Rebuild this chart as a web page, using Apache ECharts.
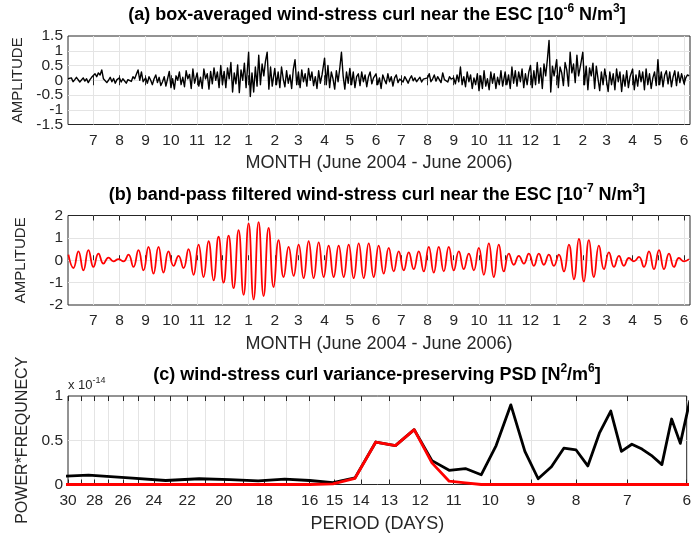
<!DOCTYPE html>
<html>
<head>
<meta charset="utf-8">
<script src="https://cdn.jsdelivr.net/npm/echarts@6/dist/echarts.min.js"></script>
<style>
  html, body { margin: 0; padding: 0; background: #ffffff; }
  #chart { width: 694px; height: 537px; }
</style>
</head>
<body>
<div id="chart"></div>
<script>
// ---------------------------------------------------------------------------
// (a) box-averaged wind-stress curl, sampled every 2 days, one row per month
// ---------------------------------------------------------------------------
const curl2004 = [
  /* Jun */ [0.05, 0.0, 0.08, -0.05, 0.02, 0.1, 0.04, -0.06, 0.0, 0.08, -0.03, 0.05, -0.08, 0.02, 0.1],
  /* Jul */ [0.15, 0.22, 0.12, 0.25, 0.18, 0.35, 0.05, 0.1, -0.08, 0.0, 0.1, -0.05, 0.06, -0.1, 0.02],
  /* Aug */ [0.08, -0.06, 0.05, 0.1, -0.1, 0.02, 0.08, -0.04, 0.12, 0.05, 0.2, 0.35, 0.0, 0.28, -0.05],
  /* Sep */ [0.08, -0.1, 0.12, 0.0, -0.15, 0.05, 0.18, -0.08, 0.1, -0.18, -0.05, 0.12, -0.2, 0.05, 0.3],
  /* Oct */ [-0.25, 0.05, -0.3, 0.15, 0.0, 0.28, -0.15, 0.1, -0.22, 0.32, 0.05, 0.2, -0.28, 0.38, -0.1],
  /* Nov */ [0.25, -0.2, 0.1, -0.28, 0.38, 0.05, 0.22, -0.3, 0.3, -0.12, 0.42, 0.0, 0.28, -0.25, 0.5],
  /* Dec */ [-0.15, 0.3, -0.25, 0.42, 0.05, 0.6, -0.4, 0.25, -0.12, 0.52, -0.42, 0.35, 0.0, 0.58, -0.25]
];
const curl2005 = [
  /* Jan */ [0.95, -0.55, 0.25, -0.4, 0.45, -0.2, 0.85, -0.15, 0.55, 0.15, 0.65, 0.95, -0.3, 0.45, -0.2],
  /* Feb */ [0.4, -0.15, 0.28, -0.25, 0.45, 0.05, -0.22, 0.32, -0.1, 0.18, -0.28, 0.38, 0.7, -0.15],
  /* Mar */ [0.28, -0.25, 0.35, -0.05, 0.22, -0.2, 0.4, 0.0, 0.28, -0.18, 0.12, -0.28, 0.32, -0.1, 0.18],
  /* Apr */ [0.75, -0.15, 0.5, -0.25, 0.28, 0.05, -0.3, 0.32, -0.05, 0.4, 0.95, 0.15, -0.3, 0.28, -0.1],
  /* May */ [0.4, -0.15, 0.28, -0.25, 0.12, 0.22, -0.18, 0.28, -0.05, 0.18, -0.22, 0.12, 0.28, -0.12, 0.08],
  /* Jun */ [0.22, -0.15, 0.08, -0.28, 0.18, 0.02, -0.12, 0.22, -0.05, 0.12, -0.2, 0.08, 0.18, -0.08, 0.04],
  /* Jul */ [0.08, -0.06, 0.12, 0.02, -0.1, 0.05, 0.15, -0.02, 0.08, -0.05, 0.03, 0.1, -0.06, 0.04, 0.0],
  /* Aug */ [0.08, 0.22, -0.05, 0.04, 0.18, -0.03, 0.12, 0.08, -0.08, 0.25, 0.02, 0.08, -0.06, 0.12, 0.04],
  /* Sep */ [0.08, -0.12, 0.18, -0.05, 0.45, -0.15, 0.12, -0.22, 0.28, -0.05, 0.18, -0.28, 0.08, -0.15, 0.22],
  /* Oct */ [-0.35, 0.15, -0.28, 0.32, -0.2, 0.05, -0.32, 0.28, -0.1, 0.22, -0.28, 0.1, -0.15, 0.32, -0.2],
  /* Nov */ [0.28, -0.15, 0.18, -0.28, 0.45, -0.1, 0.32, -0.2, 0.28, -0.05, 0.38, -0.25, 0.22, -0.15, 0.28],
  /* Dec */ [0.5, -0.25, 0.32, -0.15, 0.6, -0.1, 0.42, -0.28, 0.55, 0.15, 0.7, 1.35, -0.4, 0.48, 0.15]
];
const curl2006 = [
  /* Jan */ [0.7, -0.25, 0.45, 0.25, -0.18, 0.6, 0.35, -0.2, 0.95, 0.25, 0.55, -0.08, 0.85, 0.15, 0.45],
  /* Feb */ [0.95, -0.15, 0.48, -0.32, 0.42, 0.15, 0.58, -0.28, 0.48, 0.05, -0.35, 0.28, -0.15, 0.38],
  /* Mar */ [0.32, -0.38, 0.28, -0.15, 0.22, -0.32, 0.38, -0.05, 0.28, -0.38, 0.18, -0.2, 0.32, -0.25, 0.12],
  /* Apr */ [0.38, -0.32, 0.18, -0.2, 0.32, -0.05, 0.28, -0.32, 0.38, -0.15, 0.22, -0.28, 0.08, 0.28, -0.18],
  /* May */ [0.7, -0.15, 0.28, -0.22, 0.18, 0.32, -0.12, 0.28, -0.22, 0.12, 0.32, -0.18, 0.28, -0.08, 0.22],
  /* Jun */ [-0.12, 0.08, 0.18, 0.15]
];
const CURL_STEP_DAYS = 2;
const curlTicks = [-1.5, -1, -0.5, 0, 0.5, 1, 1.5];

// ---------------------------------------------------------------------------
// (b) band-pass filtered curl: successive crests and troughs of the ~12-day wave
// ---------------------------------------------------------------------------
const bandCrests = [
  0.25, 0.4, 0.45, 0.3, 0.12, 0.05, 0.25, 0.45, 0.6, 0.6,
  0.4, 0.2, 0.5, 0.7, 0.85, 1.05, 1.1, 1.35, 1.65, 1.7,
  1.45, 0.9, 0.6, 0.7, 0.85, 0.8, 0.65, 0.65, 0.7, 0.75,
  0.75, 0.65, 0.55, 0.4, 0.35, 0.4, 0.6, 0.6, 0.6, 0.4,
  0.3, 0.55, 0.75, 0.7, 0.3, 0.2, 0.3, 0.3, 0.25, 0.25,
  0.7, 0.95, 0.9, 0.65, 0.35, 0.2, 0.1, 0.15, 0.4, 0.45,
  0.3, 0.1, 0.05
];
const bandTroughs = [
  -0.35, -0.45, -0.3, -0.15, -0.05, -0.05, -0.3, -0.45, -0.6, -0.55,
  -0.25, -0.35, -0.65, -0.75, -0.9, -1.0, -1.25, -1.55, -1.75, -1.6,
  -1.2, -0.75, -0.7, -0.8, -0.8, -0.75, -0.75, -0.75, -0.8, -0.8,
  -0.75, -0.6, -0.5, -0.45, -0.4, -0.5, -0.55, -0.5, -0.45, -0.4,
  -0.45, -0.65, -0.75, -0.5, -0.2, -0.15, -0.25, -0.2, -0.25, -0.5,
  -0.85, -0.95, -0.75, -0.4, -0.3, -0.25, -0.05, -0.3, -0.4, -0.4,
  -0.3, -0.05
];
const BAND_FIRST_DAY = 0.5;
const BAND_HALF_CYCLE_DAYS = 5.93;
const bandTicks = [-2, -1, 0, 1, 2];

// ---------------------------------------------------------------------------
// (c) variance-preserving PSD (x 1e-14) against period in days
// ---------------------------------------------------------------------------
const psdPeriods = [32, 28.44, 25.6, 23.27, 21.33, 19.69, 18.29, 17.07, 16, 15.06,
  14.22, 13.47, 12.8, 12.19, 11.64, 11.13, 10.67, 10.24, 9.85, 9.48,
  9.14, 8.83, 8.53, 8.26, 8, 7.76, 7.53, 7.31, 7.11, 6.92,
  6.74, 6.56, 6.4, 6.24, 6.1, 5.95];
const psdFull = [0.085, 0.105, 0.075, 0.045, 0.065, 0.055, 0.04, 0.06, 0.045, 0.02,
  0.075, 0.48, 0.44, 0.62, 0.27, 0.16, 0.18, 0.11, 0.44, 0.9,
  0.375, 0.065, 0.2, 0.41, 0.39, 0.21, 0.58, 0.83, 0.375, 0.455,
  0.4, 0.32, 0.225, 0.74, 0.465, 0.95];
const psdBand = [0, 0, 0, 0, 0, 0, 0, 0, 0, 0.008,
  0.07, 0.48, 0.44, 0.62, 0.244, 0.037, 0.019, 0, 0, 0,
  0, 0, 0, 0, 0, 0, 0, 0, 0, 0,
  0, 0, 0, 0, 0, 0];
const periodTicks = [30, 29, 28, 27, 26, 25, 24, 23, 22, 21, 20, 19, 18, 17, 16, 15,
  14, 13, 12, 11, 10, 9, 8, 7, 6];
const periodLabels = [30, 28, 26, 24, 22, 20, 18, 16, 15, 14, 13, 12, 11, 10, 9, 8, 7, 6];
const psdTicks = [0, 0.5, 1];

// ---------------------------------------------------------------------------
const FONT = '"Liberation Sans", Arial, Helvetica, sans-serif';
const INK = '#262626';
const GRIDLINE = '#e4e4e4';
const DAY_MS = 86400000;
const START_MS = Date.UTC(2004, 5, 1);
const LAST_DAY = 737;

function dayOf(year, month, date) {
  return (Date.UTC(year, month, date) - START_MS) / DAY_MS;
}
function monthNumber(day) {
  return String(new Date(START_MS + day * DAY_MS).getUTCMonth() + 1);
}

// first day of each month, Jul 2004 .. Jun 2006
const monthStarts = [];
for (let i = 1; i <= 24; i++) monthStarts.push(dayOf(2004, 5 + i, 1));

const curlPoints = [];
[...curl2004, ...curl2005, ...curl2006].forEach((row, r) => {
  const start = dayOf(2004, 5 + r, 1);
  row.forEach((v, i) => curlPoints.push([start + i * CURL_STEP_DAYS, v]));
});

const bandPoints = [];
bandCrests.forEach((v, i) => {
  bandPoints.push([BAND_FIRST_DAY + 2 * i * BAND_HALF_CYCLE_DAYS, v]);
  if (i < bandTroughs.length) {
    bandPoints.push([BAND_FIRST_DAY + (2 * i + 1) * BAND_HALF_CYCLE_DAYS, bandTroughs[i]]);
  }
});

const psdFullPoints = psdPeriods.map((p, i) => [p, psdFull[i]]);
const psdBandPoints = psdPeriods.map((p, i) => [p, psdBand[i]]);

const tickFont = { fontFamily: FONT, fontSize: 15.5, color: INK };
const xNameStyle = { fontFamily: FONT, fontSize: 18, color: INK };

function monthAxis(gridIndex, position, withLabels) {
  return {
    type: 'value', gridIndex, position, min: 0, max: LAST_DAY,
    axisLine: { show: false },
    axisTick: { show: true, inside: true, length: 5, customValues: monthStarts,
      lineStyle: { color: INK, width: 1 } },
    axisLabel: Object.assign({ show: withLabels, customValues: monthStarts, margin: 8,
      formatter: v => monthNumber(v) }, tickFont),
    splitLine: { show: withLabels, lineStyle: { color: GRIDLINE, width: 1 } },
    name: withLabels ? 'MONTH (June 2004 - June 2006)' : '',
    nameLocation: 'middle', nameGap: 30, nameTextStyle: xNameStyle
  };
}

function periodAxis(position, withLabels) {
  return {
    type: 'log', logBase: 10, gridIndex: 2, position, inverse: true, min: 6, max: 30,
    axisLine: { show: false },
    axisTick: { show: true, inside: true, length: 5, customValues: periodTicks,
      lineStyle: { color: INK, width: 1 } },
    axisLabel: Object.assign({ show: withLabels, customValues: periodLabels, margin: 8,
      formatter: v => String(Math.round(v)) }, tickFont),
    splitLine: { show: withLabels, showMinLine: false, showMaxLine: false,
      lineStyle: { color: GRIDLINE, width: 1 } },
    name: withLabels ? 'PERIOD (DAYS)' : '',
    nameLocation: 'middle', nameGap: 31, nameTextStyle: xNameStyle
  };
}

// value axis whose split lines sit on `ticks` and whose labels sit on `labels`
function amplitudeAxis(gridIndex, min, max, ticks, labels, name, gap, size, withLines) {
  return {
    type: 'value', gridIndex, min, max, position: 'left',
    axisLine: { show: false },
    axisTick: { show: false, customValues: ticks },
    axisLabel: Object.assign({ margin: 5, customValues: labels,
      showMinLabel: true, showMaxLabel: true, hideOverlap: false,
      formatter: v => String(v) }, tickFont),
    splitLine: { show: withLines, showMinLine: false, showMaxLine: false,
      lineStyle: { color: GRIDLINE, width: 1 } },
    name, nameLocation: 'middle', nameGap: gap, nameRotate: 90,
    nameTextStyle: { fontFamily: FONT, fontSize: size, color: INK }
  };
}

const gridBox = { show: true, borderColor: INK, borderWidth: 1, backgroundColor: 'transparent' };

const titleRich = {
  t: { fontFamily: FONT, fontSize: 18, fontWeight: 'bold', fill: '#000', lineHeight: 24 },
  s: { fontFamily: FONT, fontSize: 12, fontWeight: 'bold', fill: '#000', verticalAlign: 'top', lineHeight: 24 }
};
function titleText(y, text) {
  return { type: 'text', x: 377, y, z: 20,
    style: { text, rich: titleRich, align: 'center', verticalAlign: 'middle' } };
}

// the tightly packed panel (a) labels are split over two stacked axes
const curlLabelsOuter = curlTicks.filter((v, i) => i % 2 === 0);
const curlLabelsInner = curlTicks.filter((v, i) => i % 2 === 1);

const chart = echarts.init(document.getElementById('chart'), null, { renderer: 'canvas' });
chart.setOption({
  animation: false,
  backgroundColor: '#ffffff',
  grid: [
    Object.assign({ left: 68, right: 4, top: 36, height: 88.5 }, gridBox),
    Object.assign({ left: 68, right: 4, top: 215.5, height: 89.5 }, gridBox),
    Object.assign({ left: 68, right: 4, top: 396, height: 88.5 }, gridBox)
  ],
  xAxis: [
    monthAxis(0, 'bottom', true), monthAxis(0, 'top', false),
    monthAxis(1, 'bottom', true), monthAxis(1, 'top', false),
    periodAxis('bottom', true), periodAxis('top', false)
  ],
  yAxis: [
    amplitudeAxis(0, -1.5, 1.5, curlTicks, curlLabelsOuter, 'AMPLITUDE', 40, 15, true),
    amplitudeAxis(1, -2, 2, bandTicks, bandTicks, 'AMPLITUDE', 40, 15, true),
    amplitudeAxis(2, 0, 1, psdTicks, psdTicks, 'POWER*FREQUNECY', 37, 16, true),
    amplitudeAxis(0, -1.5, 1.5, curlTicks, curlLabelsInner, '', 40, 15, false)
  ],
  graphic: [
    titleText(15, '{t|(a) box-averaged wind-stress curl near the ESC [10}{s|-6}{t| N/m}{s|3}{t|]}'),
    titleText(195, '{t|(b) band-pass filtered wind-stress curl near the ESC [10}{s|-7}{t| N/m}{s|3}{t|]}'),
    titleText(375, '{t|(c) wind-stress curl variance-preserving PSD [N}{s|2}{t|/m}{s|6}{t|]}'),
    { type: 'text', x: 68, y: 385, z: 20,
      style: { text: '{n|x 10}{e|-14}', align: 'left', verticalAlign: 'middle',
        rich: {
          n: { fontFamily: FONT, fontSize: 13, fill: INK, lineHeight: 18 },
          e: { fontFamily: FONT, fontSize: 9, fill: INK, verticalAlign: 'top', lineHeight: 18 }
        } } }
  ],
  series: [
    { type: 'line', xAxisIndex: 0, yAxisIndex: 0, data: curlPoints, symbol: 'none',
      lineStyle: { color: '#000000', width: 1.4, join: 'round' } },
    { type: 'line', xAxisIndex: 2, yAxisIndex: 1, data: bandPoints, symbol: 'none', smooth: 0.5,
      lineStyle: { color: '#ff0000', width: 1.8 } },
    { type: 'line', xAxisIndex: 4, yAxisIndex: 2, data: psdFullPoints, symbol: 'none',
      lineStyle: { color: '#000000', width: 2.8, join: 'round' } },
    { type: 'line', xAxisIndex: 4, yAxisIndex: 2, data: psdBandPoints, symbol: 'none', z: 3,
      lineStyle: { color: '#ff0000', width: 2.8, join: 'round' } }
  ]
});
</script>
</body>
</html>
